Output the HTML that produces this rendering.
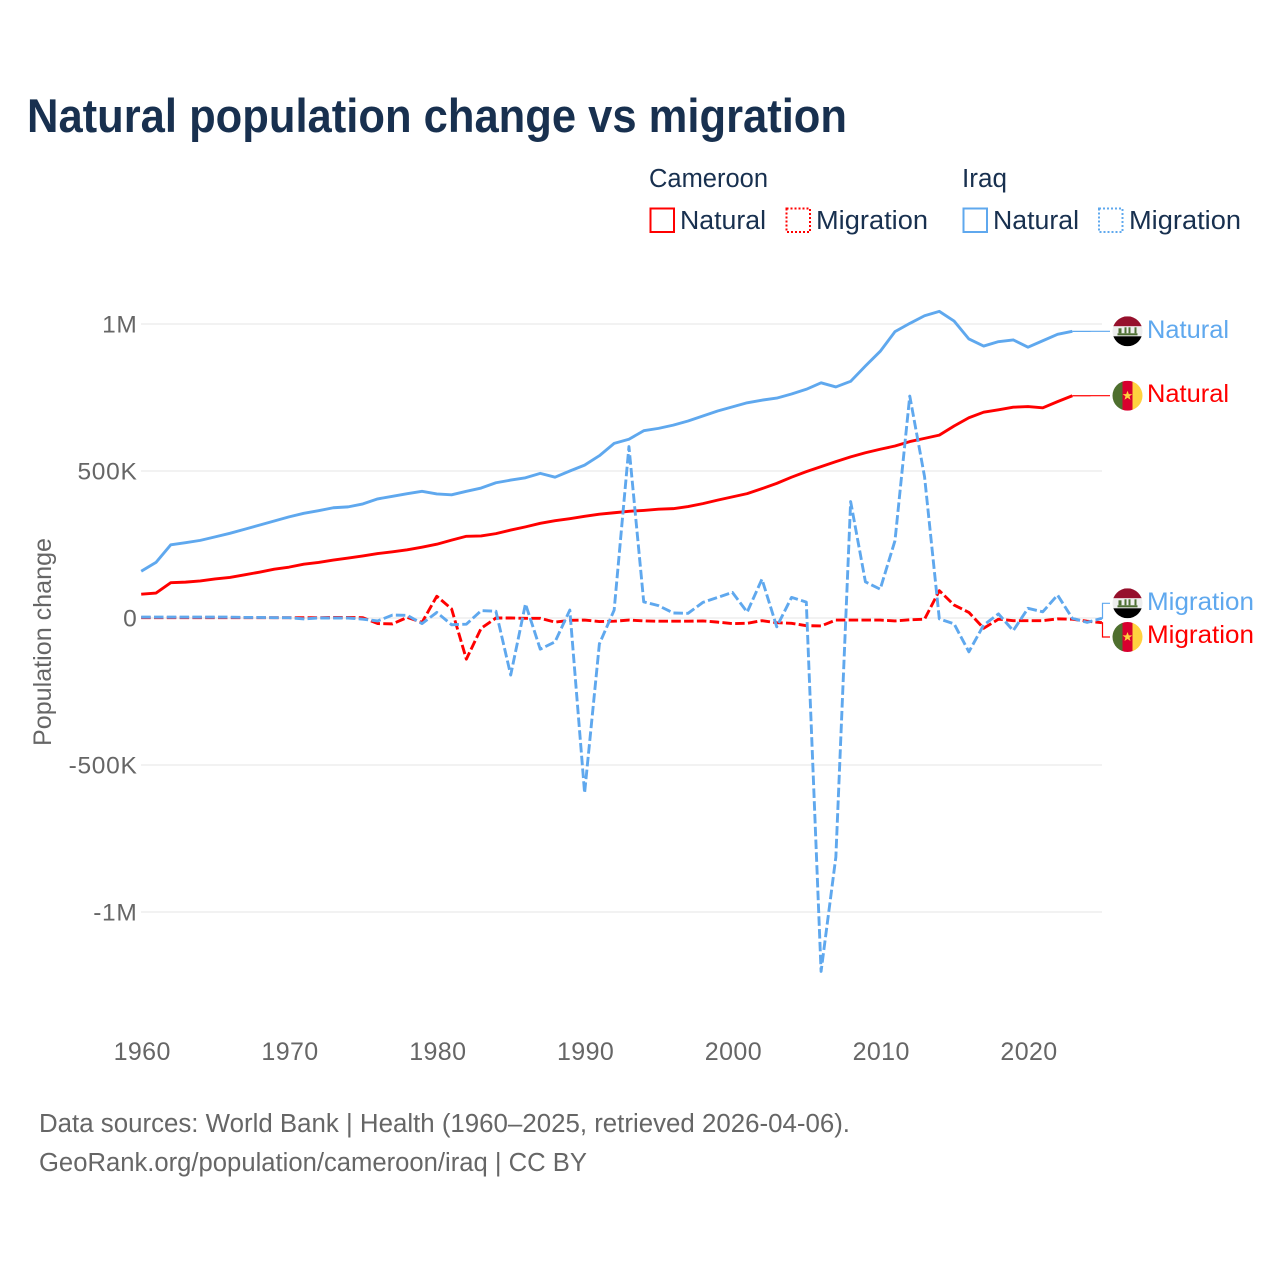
<!DOCTYPE html>
<html lang="en">
<head>
<meta charset="utf-8">
<title>Natural population change vs migration</title>
<style>
html,body{margin:0;padding:0;background:#fff;}
svg{display:block;font-family:"Liberation Sans",sans-serif;}
</style>
</head>
<body>
<svg id="chart" xmlns="http://www.w3.org/2000/svg" width="1280" height="1280" viewBox="0 0 1280 1280">
  <defs>
    <clipPath id="flag-clip"><circle cx="0" cy="0" r="15"></circle></clipPath>
    <g id="flag-iq">
      <g clip-path="url(#flag-clip)">
        <rect x="-15" y="-15" width="30" height="10" fill="#96102c"></rect>
        <rect x="-15" y="-5" width="30" height="10" fill="#eeeeee"></rect>
        <rect x="-15" y="5" width="30" height="10" fill="#000000"></rect>
        <rect x="-10" y="2" width="20" height="2" fill="#4f7034"></rect>
        <rect x="-9" y="-3" width="3" height="5" fill="#4f7034"></rect>
        <rect x="-3" y="-4" width="2" height="6" fill="#4f7034"></rect>
        <rect x="1" y="-4" width="2" height="6" fill="#4f7034"></rect>
        <rect x="7" y="-4" width="2" height="6" fill="#4f7034"></rect>
      </g>
    </g>
    <g id="flag-cm">
      <g clip-path="url(#flag-clip)">
        <rect x="-15" y="-15" width="10" height="30" fill="#4e6f2e"></rect>
        <rect x="-5" y="-15" width="10" height="30" fill="#d8002e"></rect>
        <rect x="5" y="-15" width="10" height="30" fill="#ffd23f"></rect>
        <polygon points="0,-5 1.3,-1.6 4.9,-1.6 2,0.6 3,4 0,2 -3,4 -2,0.6 -4.9,-1.6 -1.3,-1.6" fill="#ffd23f"></polygon>
      </g>
    </g>
  </defs>

  <rect x="0" y="0" width="1280" height="1280" fill="#ffffff"></rect>

  <text x="27" y="132" font-size="47.5" font-weight="700" fill="#18304f" textLength="820" lengthAdjust="spacingAndGlyphs">Natural population change vs migration</text>

  <g font-size="25.5" fill="#18304f">
    <text x="649" y="187" textLength="119" lengthAdjust="spacingAndGlyphs">Cameroon</text>
    <text x="962" y="187" textLength="45" lengthAdjust="spacingAndGlyphs">Iraq</text>
    <g>
      <rect x="650.5" y="208.5" width="23.5" height="23.5" fill="#fff" stroke="#ff0000" stroke-width="2"></rect>
      <text x="680" y="229" textLength="86" lengthAdjust="spacingAndGlyphs">Natural</text>
    </g>
    <g>
      <rect x="786.5" y="208.5" width="23.5" height="23.5" fill="#fff" stroke="#ff0000" stroke-width="2" stroke-dasharray="2 2"></rect>
      <text x="816" y="229" textLength="112" lengthAdjust="spacingAndGlyphs">Migration</text>
    </g>
    <g>
      <rect x="963.5" y="208.5" width="23.5" height="23.5" fill="#fff" stroke="#5fa8ee" stroke-width="2"></rect>
      <text x="993" y="229" textLength="86" lengthAdjust="spacingAndGlyphs">Natural</text>
    </g>
    <g>
      <rect x="1099" y="208.5" width="23.5" height="23.5" fill="#fff" stroke="#5fa8ee" stroke-width="2" stroke-dasharray="2 2"></rect>
      <text x="1129" y="229" textLength="112" lengthAdjust="spacingAndGlyphs">Migration</text>
    </g>
  </g>

  <g id="grid"></g>
  <g id="y-ticks" font-size="24.5" fill="#666666" text-anchor="end" letter-spacing="0.7"></g>
  <g id="x-ticks" font-size="25" fill="#666666" text-anchor="middle" letter-spacing="0.4"></g>
  <text transform="translate(51,746) rotate(-90)" font-size="25" fill="#666666" textLength="208" lengthAdjust="spacingAndGlyphs">Population change</text>

  <g id="connectors"></g>
  <g id="series"></g>

  <use href="#flag-iq" x="1127.5" y="331.3"></use>
  <use href="#flag-cm" x="1127.5" y="395.7"></use>
  <use href="#flag-iq" x="1127.5" y="603.3"></use>
  <use href="#flag-cm" x="1127.5" y="637"></use>

  <g font-size="25">
    <text x="1147" y="338" fill="#5fa8ee" textLength="82" lengthAdjust="spacingAndGlyphs">Natural</text>
    <text x="1147" y="402" fill="#ff0000" textLength="82" lengthAdjust="spacingAndGlyphs">Natural</text>
    <text x="1147" y="610" fill="#5fa8ee" textLength="107" lengthAdjust="spacingAndGlyphs">Migration</text>
    <text x="1147" y="643" fill="#ff0000" textLength="107" lengthAdjust="spacingAndGlyphs">Migration</text>
  </g>

  <g font-size="25.5" fill="#666666">
    <text x="39" y="1132" textLength="811" lengthAdjust="spacingAndGlyphs">Data sources: World Bank | Health (1960–2025, retrieved 2026-04-06).</text>
    <text x="39" y="1171" textLength="548" lengthAdjust="spacingAndGlyphs">GeoRank.org/population/cameroon/iraq | CC BY</text>
  </g>
</svg>

<script>
const firstYear = 1960;
const yTickValues = [1000, 500, 0, -500, -1000];
const yTickLabels = ["1M", "500K", "0", "-500K", "-1M"];
const xTickYears = [1960, 1970, 1980, 1990, 2000, 2010, 2020];

/* All series values are in thousands of people, one value per year from 1960. */
const iraqNatural = [159,189,249,256,264,276,288,302,316,330,344,356,365,375,378,388,405,414,423,431,422,419,431,442,460,469,477,492,479,500,520,552,594,608,637,645,656,670,687,704,718,732,741,748,762,778,800,786,805,857,907,974,1002,1028,1043,1010,949,925,940,946,921,943,965,975];
const cameroonNatural = [81,85,120,122,126,133,138,147,156,166,173,183,189,197,204,211,219,225,232,241,251,265,278,279,287,299,310,322,331,338,346,353,358,363,366,370,372,379,389,401,412,423,440,458,479,498,515,532,548,562,574,585,600,611,622,653,681,700,708,717,719,715,736,756];
const iraqMigration = [3,3,3,3,3,3,3,2,2,1,1,-3,0,0,0,-4,-10,10,9,-19,19,-23,-21,25,23,-194,48,-106,-81,27,-595,-88,27,583,55,42,17,16,53,70,87,20,132,-30,70,54,-1202,-813,396,123,98,263,755,481,-3,-20,-115,-24,14,-43,33,21,78,-1,-15,-1];
const cameroonMigration = [1,1,1,1,1,1,1,1,1,1,1,1,1,2,2,1,-19,-20,2,-15,74,31,-140,-35,0,0,-1,-1,-14,-8,-7,-12,-11,-7,-10,-11,-11,-11,-10,-14,-19,-18,-9,-16,-18,-26,-27,-7,-7,-7,-7,-10,-6,-4,93,44,19,-35,-4,-9,-9,-9,-3,-4,-11,-16];

function xScale(year) { return 141.2 + (year - firstYear) * 14.78; }
function yScale(value) { return 618 - value * 0.294; }

const SVG_NS = "http://www.w3.org/2000/svg";
const BLUE = "#5fa8ee";
const RED = "#ff0000";

function make(tag, parent, attrs) {
  const el = document.createElementNS(SVG_NS, tag);
  for (const k in attrs) el.setAttribute(k, attrs[k]);
  parent.appendChild(el);
  return el;
}

const gridGroup = document.getElementById("grid");
const yTickGroup = document.getElementById("y-ticks");
const xTickGroup = document.getElementById("x-ticks");
const seriesGroup = document.getElementById("series");
const connectorGroup = document.getElementById("connectors");

yTickValues.forEach(function (v, i) {
  const line = make("line", gridGroup, { x1: 141, x2: 1102, y1: yScale(v), y2: yScale(v), stroke: "#e9e9e9", "stroke-width": 1.2 });
  
  
  const label = make("text", yTickGroup, { x: 137.5, y: yScale(v) + 8.5 });
  
  
  label.textContent = yTickLabels[i];
});

xTickYears.forEach(function (year) {
  const label = make("text", xTickGroup, { x: xScale(year) + 1, y: 1060 });
  
  
  label.textContent = String(year);
});

function pointsFor(values) {
  return values.map(function (v, i) {
    return xScale(firstYear + i).toFixed(2) + "," + yScale(v).toFixed(2);
  }).join(" ");
}

function drawSeries(values, color, dashed) {
  const attrs = { points: pointsFor(values), fill: "none", stroke: color, "stroke-width": 2.9, "stroke-linejoin": "round" };
  if (dashed) attrs["stroke-dasharray"] = "9.5 3.3";
  return make("polyline", seriesGroup, attrs);
}

const lineCameroonNatural = drawSeries(cameroonNatural, RED, false);


const lineIraqNatural = drawSeries(iraqNatural, BLUE, false);


const lineCameroonMigration = drawSeries(cameroonMigration, RED, true);


const lineIraqMigration = drawSeries(iraqMigration, BLUE, true);



function drawConnector(values, color, labelY, elbowX) {
  const lastX = xScale(firstYear + values.length - 1);
  const lastY = yScale(values[values.length - 1]);
  const d = "M" + lastX + "," + lastY + " H" + elbowX + " V" + labelY + " H1110";
  return make("path", connectorGroup, { d: d, fill: "none", stroke: color, "stroke-width": 1.2 });
}

const connectorIraqNatural = drawConnector(iraqNatural, BLUE, 331.3, 1090);


const connectorCameroonNatural = drawConnector(cameroonNatural, RED, 395.7, 1090);


const connectorIraqMigration = drawConnector(iraqMigration, BLUE, 603.3, 1102.5);


const connectorCameroonMigration = drawConnector(cameroonMigration, RED, 637, 1102.5);


</script>
</body>
</html>
